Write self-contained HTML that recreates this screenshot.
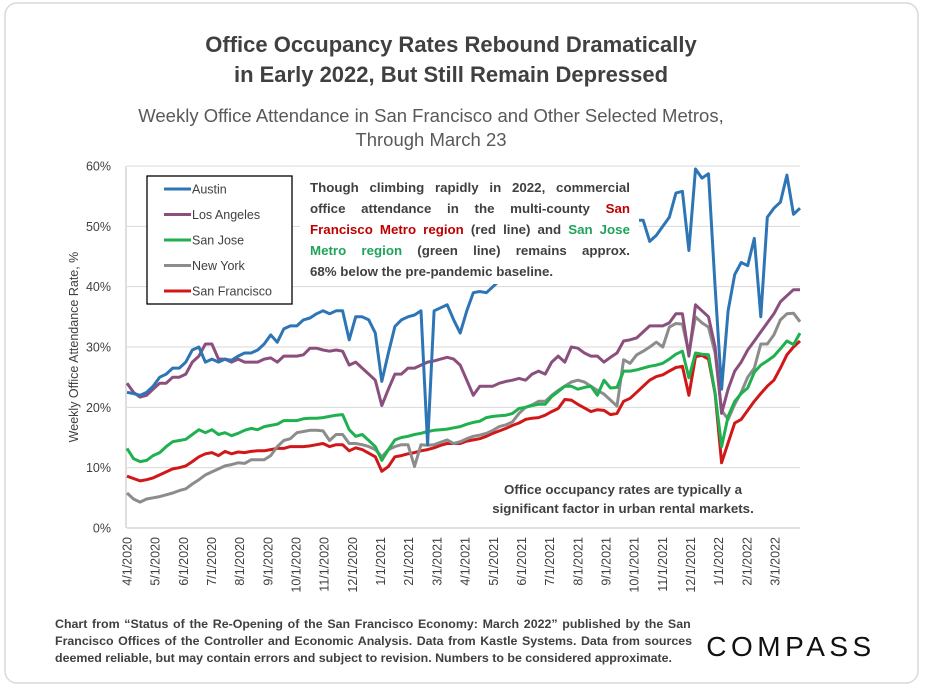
<!DOCTYPE html>
<html><head><meta charset="utf-8"><style>
html,body{margin:0;padding:0;background:#fff;}
svg{display:block;font-family:"Liberation Sans",sans-serif;}
</style></head><body>
<svg id="chart" width="925" height="687" viewBox="0 0 925 687">
<rect x="5" y="3" width="913" height="680" rx="12" fill="#fff" stroke="#d9d9d9" stroke-width="1.5"/>
<text x="451" y="52" text-anchor="middle" font-size="22" font-weight="bold" fill="#404040">Office Occupancy Rates Rebound Dramatically</text>
<text x="451" y="82" text-anchor="middle" font-size="22" font-weight="bold" fill="#404040">in Early 2022, But Still Remain Depressed</text>
<text x="431" y="122" text-anchor="middle" font-size="18.5" fill="#595959">Weekly Office Attendance in San Francisco and Other Selected Metros,</text>
<text x="431" y="146" text-anchor="middle" font-size="18.5" fill="#595959">Through March 23</text>
<g id="grid"></g>
<g id="yticks"></g>
<g id="xticks"></g>
<g id="series"></g>
<rect x="300" y="170" width="339" height="114" fill="#fff"/>
<g font-size="13.3" font-weight="bold" fill="#404040">
<text class="just" x="310" y="192">Though climbing rapidly in 2022, commercial</text>
<text class="just" x="310" y="213">office attendance in the multi-county <tspan fill="#c00000">San</tspan></text>
<text class="just" x="310" y="234"><tspan fill="#c00000">Francisco Metro region</tspan> (red line) and <tspan fill="#1fa35b">San Jose</tspan></text>
<text class="just" x="310" y="255"><tspan fill="#1fa35b">Metro region</tspan> (green line) remains approx.</text>
<text x="310" y="276">68% below the pre-pandemic baseline.</text>
</g>
<g font-size="13.3" font-weight="bold" fill="#404040" text-anchor="middle">
<text x="623" y="494">Office occupancy rates are typically a</text>
<text x="623" y="513">significant factor in urban rental markets.</text>
</g>
<g id="legend">
<rect x="147" y="176" width="145" height="128" fill="#fff" stroke="#000" stroke-width="1.3"/>
</g>
<text transform="translate(78,347) rotate(-90)" text-anchor="middle" font-size="12.5" fill="#404040">Weekly Office Attendance Rate, %</text>
<g font-size="12.4" font-weight="bold" fill="#404040">
<text class="just2" x="55" y="628">Chart from  “Status of the Re-Opening of the San Francisco Economy: March 2022” published by the San</text>
<text class="just2" x="55" y="645">Francisco Offices of the Controller and Economic Analysis. Data from Kastle Systems. Data from sources</text>
<text x="55" y="662">deemed reliable, but may contain errors and subject to revision. Numbers to be considered approximate.</text>
</g>
<text x="791" y="656" text-anchor="middle" font-size="28" fill="#111" letter-spacing="4.5">COMPASS</text>
</svg>
<script>
const monthLabels = ["4/1/2020","5/1/2020","6/1/2020","7/1/2020","8/1/2020","9/1/2020","10/1/2020","11/1/2020","12/1/2020","1/1/2021","2/1/2021","3/1/2021","4/1/2021","5/1/2021","6/1/2021","7/1/2021","8/1/2021","9/1/2021","10/1/2021","11/1/2021","12/1/2021","1/1/2022","2/1/2022","3/1/2022"];
const yTicks = [0,10,20,30,40,50,60];
const seriesNames = ["Austin","Los Angeles","San Jose","New York","San Francisco"];
const austin = [22.5,22.3,22,22.5,23.5,25,25.5,26.5,26.5,27.5,29.5,30,27.5,28,27.5,28,27.8,28.5,29,29,29.5,30.5,32,30.8,33,33.5,33.5,34.5,34.8,35.5,36,35.5,36,36,31.2,35,35,34.5,32.3,24.3,29,33.4,34.5,35,35.3,36,13.8,36,36.5,37,34.5,32.3,36,39,39.2,39,40,41,42,43,44,44,45,45,46,46,47,47,48,48,48,49,49,50,50,50,51,51,51,51,47.5,48.5,50,51.5,55.5,55.8,46,59.5,58,58.7,40,23,36,42,44,43.5,48,35,51.5,53,54,58.5,52,53];
const losAngeles = [24,22.5,21.7,22,23,24,24,25,25,25.5,27.5,28.5,30.5,30.5,28,28,27.5,28,27.5,27.5,27.5,28,28.2,27.5,28.5,28.5,28.5,28.7,29.8,29.8,29.5,29.3,29.5,29.3,27,27.5,26.5,25.5,24.5,20.3,23,25.5,25.5,26.5,26.5,27,27.5,27.7,28,28.3,28,27,24.5,22,23.5,23.5,23.5,24,24.3,24.5,24.8,24.5,25.5,26,25.5,27.5,28.5,27.5,30,29.8,29,28.5,28.5,27.5,28.3,29,31,31.2,31.5,32.5,33.5,33.5,33.5,34,35.5,35.5,28.5,37,36,35,30,19,23,26,27.5,29.5,31,32.5,34,35.5,37.5,38.5,39.5,39.5];
const sanJose = [13.2,11.5,11,11.2,12,12.5,13.5,14.3,14.5,14.7,15.5,16.3,15.8,16.3,15.5,15.8,15.3,15.7,16.2,16.5,16.3,16.8,17,17.2,17.8,17.8,17.8,18.1,18.2,18.2,18.3,18.5,18.7,18.8,16.3,15.2,15.5,14.5,13.5,11.2,13,14.6,15,15.2,15.5,15.7,16,16.2,16.3,16.4,16.6,16.8,17.2,17.5,17.7,18.3,18.5,18.6,18.7,19,19.8,20,20.3,20.5,20.5,21.8,22.6,23.5,23.5,23,23.3,23.5,22,24.5,23.2,23.3,26,26,26.2,26.5,26.8,27,27.3,28,28.8,29.3,24.9,29,28.8,28.7,22.3,13.5,18.5,21,22.3,23.2,25.8,27,27.7,28.5,29.7,31,30.4,32.3];
const newYork = [5.8,4.8,4.3,4.8,5,5.2,5.5,5.8,6.2,6.5,7.3,8,8.8,9.3,9.8,10.3,10.5,10.8,10.7,11.3,11.3,11.3,12,13.5,14.5,14.8,15.8,16,16.2,16.2,16.1,14.5,15.5,15.5,14,14,13.8,13.5,13,11.8,13,13.5,13.8,13.8,10.2,13.8,13.7,13.8,14.2,14.6,14,14.3,14.8,15.2,15.4,15.7,16.2,16.8,17.1,17.6,19,20,20.4,21,21,22,22.8,23.5,24.2,24.5,24.2,23.5,22.8,22.2,21.2,20.2,27.9,27.3,28.7,29.3,30,30.8,30,33.3,33.9,33.8,29,35,34,33.3,29,19.5,18,20.5,22.5,25,26.5,30.5,30.5,32,34.5,35.5,35.6,34.2];
const sanFrancisco = [8.6,8.2,7.8,8,8.3,8.8,9.3,9.8,10,10.3,11,11.8,12.3,12.5,12,12.7,12.3,12.6,12.5,12.7,12.8,12.8,13,13.2,13.2,13.5,13.5,13.5,13.6,13.8,14,13.5,13.8,13.8,12.8,13.3,13,12.4,11.8,9.4,10.2,11.8,12,12.3,12.5,12.8,13,13.3,13.7,14,14,14,14.4,14.6,14.8,15.2,15.7,16.1,16.5,17,17.4,18,18.2,18.3,18.7,19.3,19.8,21.3,21.2,20.5,19.9,19.3,19.6,19.5,18.8,19,21,21.5,22.5,23.5,24.5,25.1,25.4,26,26.6,26.8,22,28.4,28.6,28,22.3,10.8,14.1,17.4,18,19.5,21,22.3,23.5,24.5,26.5,28.7,30,31];
const seriesColors = ["#2e75b6","#8b4f7d","#1fb050","#8c8c8c","#d01818"];
const allSeries = [austin, losAngeles, sanJose, newYork, sanFrancisco];

const NS = "http://www.w3.org/2000/svg";
const X0 = 127, X1 = 800, Y0 = 528, Y60 = 166;
const nWeeks = austin.length;
function xScale(i){ return X0 + i * (X1 - X0) / (nWeeks - 1); }
function yScale(v){ return Y0 - v * (Y0 - Y60) / 60; }
function monthX(m){ return X0 + m * (775 - X0) / 23; }
function mk(tag, attrs, parent){ const e = document.createElementNS(NS, tag); for (const k in attrs) e.setAttribute(k, attrs[k]); parent.appendChild(e); return e; }

const grid = document.getElementById('grid');
const yt = document.getElementById('yticks');
yTicks.forEach(t => {
  const l = mk('line', {x1: X0, x2: X1, y1: yScale(t), y2: yScale(t), stroke: t === 0 ? '#bfbfbf' : '#d9d9d9', 'stroke-width': 1}, grid);
  
  
  const tx = mk('text', {x: 111, y: yScale(t) + 4.5, 'text-anchor': 'end', 'font-size': 12.5, fill: '#404040'}, yt);
  tx.textContent = t + '%';
  
  
});
const axis = mk('line', {x1: X0 - 1, x2: X0 - 1, y1: Y60, y2: Y0, stroke: '#bfbfbf', 'stroke-width': 1}, grid);



const xt = document.getElementById('xticks');
monthLabels.forEach((lab, m) => {
  const x = monthX(m);
  const tx = mk('text', {transform: 'translate(' + (x + 4.5) + ',537) rotate(-90)', 'text-anchor': 'end', 'font-size': 12.5, fill: '#404040'}, xt);
  tx.textContent = lab;
  
  
});

const sg = document.getElementById('series');
for (let s = allSeries.length - 1; s >= 0; s--) {
  const vals = allSeries[s];
  const pts = vals.map((v, i) => xScale(i).toFixed(1) + ',' + yScale(v).toFixed(1)).join(' ');
  const pl = mk('polyline', {points: pts, fill: 'none', stroke: seriesColors[s], 'stroke-width': 3, 'stroke-linejoin': 'round'}, sg);
  
  
}

const lg = document.getElementById('legend');
seriesNames.forEach((n, i) => {
  const y = 189 + i * 25.5;
  const ln = mk('line', {x1: 164, x2: 191, y1: y, y2: y, stroke: seriesColors[i], 'stroke-width': 3}, lg);
  
  
  const tx = mk('text', {x: 192, y: y + 4.5, 'font-size': 12.5, fill: '#404040'}, lg);
  tx.textContent = n;
  
  
});

function justify(cls, width){
  document.querySelectorAll('text.' + cls).forEach(t => {
    const w = t.getComputedTextLength();
    const spaces = (t.textContent.match(/ /g) || []).length;
    if (spaces > 0 && w < width) t.setAttribute('word-spacing', ((width - w) / spaces).toFixed(2));
  });
}
justify('just', 320);
justify('just2', 637);
</script>
</body></html>
